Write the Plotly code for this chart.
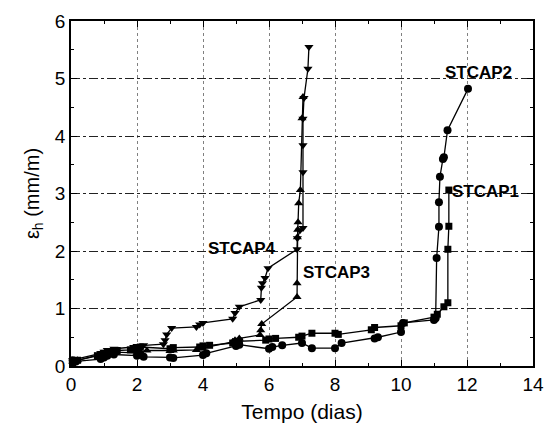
import plotly.graph_objects as go

# STCAP1 (squares)
stcap1_x = [0.05, 0.1, 0.2, 0.8, 0.9, 1.0, 1.2, 1.4, 1.8, 1.9, 2.0, 2.1, 3.0, 3.1, 3.9, 4.0, 4.2,
            4.9, 5.0, 5.1, 5.9, 6.0, 6.2, 6.9, 7.0, 7.3, 8.0, 8.1, 9.1, 9.2, 10.0, 10.1,
            11.0, 11.1, 11.3, 11.42, 11.42, 11.45, 11.45]
stcap1_y = [0.05, 0.08, 0.1, 0.18, 0.2, 0.22, 0.25, 0.27, 0.28, 0.3, 0.32, 0.33, 0.3, 0.32, 0.33, 0.35, 0.36,
            0.4, 0.42, 0.43, 0.45, 0.47, 0.48, 0.5, 0.52, 0.57, 0.57, 0.55, 0.63, 0.67, 0.7, 0.75,
            0.85, 0.9, 1.03, 1.1, 2.03, 2.43, 3.06]

# STCAP2 (circles)
stcap2_x = [0.05, 0.15, 0.9, 1.0, 1.1, 1.3, 2.0, 2.1, 2.2, 3.0, 3.1, 4.0, 4.1, 5.0, 5.1, 6.0, 6.1,
            6.4, 7.0, 7.3, 8.0, 8.2, 9.2, 9.3, 10.0, 10.06, 11.0, 11.05, 11.08, 11.15, 11.15,
            11.18, 11.27, 11.3, 11.41, 12.03]
stcap2_y = [0.1, 0.08, 0.12, 0.15, 0.18, 0.2, 0.18, 0.2, 0.16, 0.15, 0.14, 0.19, 0.22, 0.35, 0.37, 0.3, 0.33,
            0.36, 0.4, 0.31, 0.31, 0.4, 0.48, 0.5, 0.59, 0.75, 0.8, 0.83, 1.88, 2.42, 2.85,
            3.29, 3.6, 3.63, 4.1, 4.82]

# STCAP3 (up triangles)
stcap3_x = [0.05, 0.2, 0.9, 1.0, 1.1, 1.3, 2.0, 2.1, 2.3, 3.0, 3.1, 3.8, 3.97, 4.9, 4.97, 5.1,
            5.73, 5.75, 5.78, 6.85, 6.85, 6.86, 6.87, 6.88, 6.9, 6.95, 7.0, 7.03]
stcap3_y = [0.08, 0.1, 0.18, 0.2, 0.22, 0.24, 0.23, 0.25, 0.27, 0.26, 0.27, 0.28, 0.31, 0.42, 0.45, 0.48,
            0.54, 0.62, 0.73, 1.2, 1.44, 2.24, 2.37, 2.5, 2.83, 3.06, 4.31, 4.68]

# STCAP4 (down triangles)
stcap4_x = [0.05, 0.15, 0.9, 1.0, 1.1, 1.3, 1.9, 2.0, 2.2, 2.8, 2.85, 2.9, 3.05, 3.8, 3.9, 4.0,
            4.9, 4.97, 5.1, 5.75, 5.77, 5.8, 5.88, 5.97, 6.85, 6.86, 6.94, 7.03, 7.03, 7.03,
            7.03, 7.06, 7.18, 7.21]
stcap4_y = [0.1, 0.12, 0.22, 0.25, 0.28, 0.3, 0.33, 0.35, 0.36, 0.38, 0.45, 0.55, 0.66, 0.68, 0.72, 0.75,
            0.82, 0.92, 1.03, 1.15, 1.36, 1.44, 1.53, 1.7, 2.03, 2.22, 2.36, 2.4, 3.37, 3.84,
            4.3, 4.66, 5.17, 5.55]

labels = ["STCAP1", "STCAP2", "STCAP3", "STCAP4"]
label_x = [11.55, 11.33, 7.03, 4.15]
label_y = [3.03, 5.11, 1.63, 2.05]

x_ticks = [0, 2, 4, 6, 8, 10, 12, 14]
y_ticks = [0, 1, 2, 3, 4, 5, 6]

FONT = "Liberation Sans, Arial, sans-serif"

fig = go.Figure()
series = [(stcap1_x, stcap1_y, "square", 7), (stcap2_x, stcap2_y, "circle", 8),
          (stcap3_x, stcap3_y, "triangle-up", 8), (stcap4_x, stcap4_y, "triangle-down", 8)]
for (xs, ys, sym, sz), name in zip(series, labels):
    fig.add_trace(go.Scatter(x=xs, y=ys, mode="lines+markers", name=name,
                             line=dict(color="black", width=1.3),
                             marker=dict(symbol=sym, size=sz, color="black"),
                             cliponaxis=False))

for t, lx, ly in zip(labels, label_x, label_y):
    fig.add_annotation(x=lx, y=ly, text="<b>" + t + "</b>", showarrow=False,
                       xanchor="left", yanchor="middle", xshift=-2,
                       font=dict(family=FONT, size=17, color="black"))

axis_common = dict(showline=True, linecolor="black", linewidth=1.5, mirror="allticks",
                   ticks="inside", ticklen=6, tickwidth=1.2, tickcolor="black",
                   zeroline=False, showgrid=True, automargin=False,
                   tickfont=dict(family=FONT, size=19, color="black"))

fig.update_xaxes(range=[0, 14], tickvals=x_ticks, ticktext=[str(v) for v in x_ticks],
                 gridcolor="#808080", griddash="dot", gridwidth=1,
                 minor=dict(dtick=1, ticks="inside", ticklen=3, tickcolor="black", showgrid=False),
                 title=dict(text="Tempo (dias)", standoff=11,
                            font=dict(family=FONT, size=21, color="black")),
                 **axis_common)
fig.update_yaxes(range=[0, 6], tickvals=y_ticks, ticktext=[str(v) for v in y_ticks],
                 gridcolor="#222222", griddash="dashdot", gridwidth=1,
                 minor=dict(dtick=0.5, ticks="inside", ticklen=3, tickcolor="black", showgrid=False),
                 title=dict(text="ε<sub>h</sub> (mm/m)", standoff=10,
                            font=dict(family=FONT, size=20, color="black")),
                 **axis_common)

fig.update_layout(width=553, height=431, showlegend=False,
                  margin=dict(l=71, r=20, t=21, b=65, autoexpand=False),
                  plot_bgcolor="white", paper_bgcolor="white")

# remove the browser's default 8px page margin so the figure sits at the window origin
fig.write_html("out.html", config={"displayModeBar": False},
               post_script="document.body.style.margin='0';")
